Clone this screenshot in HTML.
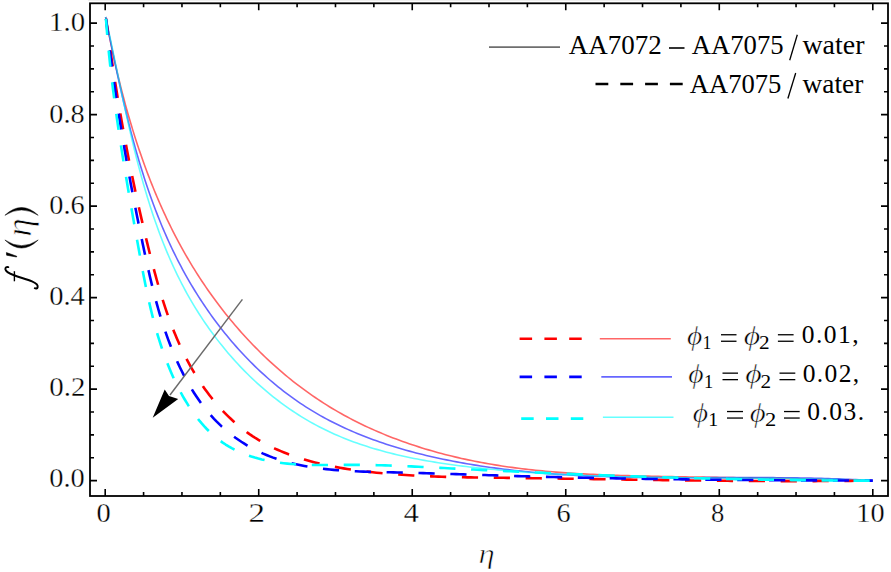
<!DOCTYPE html>
<html><head><meta charset="utf-8"><style>
html,body{margin:0;padding:0;background:#fff;}
body{width:891px;height:572px;overflow:hidden;}
svg{display:block;}
text{font-family:"Liberation Serif",serif;fill:#000;font-kerning:none;}
</style></head><body>
<svg width="891" height="572" viewBox="0 0 891 572">
<rect x="0" y="0" width="891" height="572" fill="#fff"/>
<rect x="88" y="0" width="801" height="0.8" fill="#ececec"/>
<g fill="none" stroke-linejoin="round">
<path d="M105.60,17.00 L106.22,20.31 L106.85,23.62 L107.50,26.94 L108.14,30.25 L108.80,33.57 L109.47,36.88 L110.15,40.20 L110.83,43.52 L111.53,46.83 L112.23,50.15 L112.95,53.47 L113.68,56.79 L114.41,60.10 L115.16,63.42 L115.92,66.74 L116.69,70.05 L117.47,73.37 L118.26,76.68 L119.06,79.99 L119.88,83.30 L120.70,86.61 L121.54,89.91 L122.39,93.22 L123.25,96.52 L124.13,99.82 L125.01,103.11 L125.91,106.41 L126.83,109.70 L127.75,112.99 L128.69,116.27 L129.65,119.55 L130.61,122.83 L131.59,126.10 L132.59,129.37 L133.59,132.63 L134.62,135.89 L135.65,139.15 L136.70,142.40 L137.77,145.65 L138.85,148.89 L139.95,152.12 L141.06,155.35 L142.18,158.58 L143.32,161.80 L144.48,165.01 L145.66,168.22 L146.85,171.42 L148.05,174.61 L149.27,177.80 L150.51,180.98 L151.77,184.15 L153.04,187.32 L154.33,190.48 L155.64,193.63 L156.96,196.77 L158.30,199.91 L159.66,203.03 L161.04,206.15 L162.44,209.27 L163.85,212.37 L165.28,215.46 L166.73,218.55 L168.20,221.62 L169.69,224.69 L171.20,227.75 L172.72,230.79 L174.27,233.83 L175.83,236.86 L177.42,239.88 L179.02,242.88 L180.65,245.88 L182.30,248.87 L183.96,251.84 L185.65,254.80 L187.35,257.76 L189.08,260.70 L190.83,263.63 L192.60,266.55 L194.39,269.45 L196.21,272.35 L198.04,275.23 L199.90,278.10 L201.77,280.96 L203.67,283.80 L205.59,286.63 L207.54,289.45 L209.50,292.25 L211.48,295.04 L213.49,297.81 L215.51,300.57 L217.56,303.31 L219.62,306.04 L221.71,308.76 L223.82,311.45 L225.94,314.13 L228.09,316.80 L230.26,319.45 L232.45,322.08 L234.65,324.69 L236.88,327.29 L239.13,329.86 L241.39,332.42 L243.68,334.97 L245.98,337.49 L248.31,339.99 L250.65,342.48 L253.01,344.94 L255.40,347.39 L257.80,349.81 L260.22,352.22 L262.65,354.60 L265.11,356.97 L267.59,359.31 L270.08,361.63 L272.59,363.93 L275.12,366.21 L277.67,368.46 L280.24,370.69 L282.82,372.90 L285.42,375.09 L288.04,377.25 L290.68,379.39 L293.34,381.51 L296.01,383.60 L298.70,385.66 L301.41,387.70 L304.13,389.72 L306.87,391.71 L309.63,393.68 L312.40,395.62 L315.20,397.53 L318.00,399.42 L320.83,401.28 L323.67,403.11 L326.53,404.92 L329.40,406.70 L332.29,408.45 L335.20,410.17 L338.12,411.87 L341.06,413.54 L344.01,415.18 L346.98,416.79 L349.96,418.38 L352.96,419.94 L355.97,421.47 L358.99,422.98 L362.03,424.47 L365.08,425.92 L368.14,427.35 L371.22,428.76 L374.31,430.14 L377.41,431.49 L380.52,432.82 L383.64,434.13 L386.78,435.41 L389.93,436.66 L393.09,437.89 L396.25,439.10 L399.43,440.28 L402.62,441.44 L405.82,442.57 L409.03,443.69 L412.25,444.77 L415.48,445.84 L418.71,446.88 L421.96,447.90 L425.21,448.90 L428.47,449.87 L431.74,450.82 L435.01,451.75 L438.30,452.66 L441.59,453.54 L444.88,454.41 L448.19,455.25 L451.50,456.07 L454.81,456.87 L458.13,457.65 L461.46,458.41 L464.79,459.14 L468.13,459.86 L471.47,460.55 L474.82,461.23 L478.17,461.89 L481.52,462.52 L484.88,463.14 L488.24,463.74 L491.60,464.31 L494.97,464.87 L498.34,465.41 L501.71,465.93 L505.08,466.44 L508.46,466.92 L511.84,467.39 L515.22,467.85 L518.61,468.28 L522.00,468.70 L525.39,469.10 L528.78,469.49 L532.17,469.87 L535.57,470.23 L538.96,470.57 L542.36,470.90 L545.76,471.22 L549.17,471.52 L552.57,471.81 L555.98,472.09 L559.38,472.35 L562.79,472.61 L566.20,472.85 L569.61,473.08 L573.03,473.30 L576.44,473.51 L579.85,473.71 L583.27,473.90 L586.69,474.09 L590.10,474.26 L593.52,474.42 L596.94,474.58 L600.36,474.73 L603.77,474.87 L607.19,475.00 L610.61,475.12 L614.03,475.24 L617.45,475.36 L620.87,475.47 L624.29,475.57 L627.71,475.67 L631.13,475.76 L634.55,475.85 L637.97,475.93 L641.38,476.01 L644.80,476.09 L648.22,476.17 L651.63,476.24 L655.05,476.31 L658.46,476.38 L661.88,476.44 L665.29,476.51 L668.70,476.57 L672.11,476.64 L675.52,476.70 L678.93,476.76 L682.34,476.82 L685.75,476.88 L689.15,476.94 L692.56,476.99 L695.96,477.05 L699.37,477.10 L702.77,477.16 L706.18,477.21 L709.58,477.27 L712.98,477.32 L716.38,477.37 L719.79,477.43 L723.19,477.48 L726.59,477.53 L729.99,477.58 L733.39,477.64 L736.79,477.69 L740.19,477.74 L743.59,477.79 L746.98,477.85 L750.38,477.90 L753.78,477.95 L757.18,478.01 L760.58,478.06 L763.97,478.12 L767.37,478.17 L770.77,478.23 L774.17,478.29 L777.56,478.35 L780.96,478.40 L784.36,478.46 L787.76,478.53 L791.15,478.59 L794.55,478.65 L797.95,478.72 L801.35,478.78 L804.75,478.85 L808.15,478.92 L811.54,478.99 L814.94,479.06 L818.34,479.14 L821.74,479.21 L825.14,479.29 L828.54,479.37 L831.94,479.45 L835.35,479.53 L838.75,479.62 L842.15,479.71 L845.55,479.80 L848.96,479.89 L852.36,479.98 L855.77,480.08 L859.17,480.18 L862.58,480.28 L865.98,480.38 L869.39,480.49 L872.80,480.60" stroke="#ff0000" stroke-width="1.60" stroke-opacity="0.60"/>
<path d="M105.60,17.00 L106.27,20.33 L106.94,23.67 L107.62,27.01 L108.29,30.36 L108.97,33.70 L109.64,37.05 L110.33,40.40 L111.01,43.76 L111.70,47.11 L112.38,50.47 L113.08,53.83 L113.78,57.20 L114.48,60.56 L115.18,63.92 L115.90,67.29 L116.61,70.66 L117.33,74.02 L118.06,77.39 L118.80,80.76 L119.54,84.13 L120.28,87.50 L121.04,90.86 L121.80,94.23 L122.57,97.60 L123.35,100.96 L124.13,104.32 L124.93,107.69 L125.73,111.05 L126.55,114.41 L127.37,117.77 L128.20,121.12 L129.05,124.47 L129.90,127.82 L130.76,131.17 L131.64,134.52 L132.53,137.86 L133.43,141.20 L134.34,144.53 L135.26,147.86 L136.20,151.19 L137.15,154.51 L138.11,157.83 L139.09,161.15 L140.08,164.46 L141.09,167.76 L142.11,171.06 L143.14,174.36 L144.20,177.65 L145.26,180.93 L146.34,184.21 L147.44,187.48 L148.56,190.74 L149.69,194.00 L150.84,197.26 L152.01,200.50 L153.19,203.74 L154.40,206.97 L155.62,210.19 L156.86,213.41 L158.12,216.62 L159.40,219.82 L160.69,223.01 L162.01,226.19 L163.35,229.37 L164.71,232.53 L166.09,235.69 L167.49,238.84 L168.92,241.98 L170.36,245.11 L171.83,248.23 L173.32,251.33 L174.84,254.43 L176.37,257.52 L177.93,260.60 L179.52,263.67 L181.13,266.72 L182.76,269.77 L184.42,272.80 L186.10,275.82 L187.81,278.83 L189.54,281.83 L191.29,284.81 L193.08,287.78 L194.88,290.74 L196.71,293.68 L198.57,296.61 L200.44,299.53 L202.35,302.43 L204.27,305.31 L206.22,308.17 L208.20,311.02 L210.19,313.86 L212.22,316.67 L214.26,319.47 L216.33,322.25 L218.42,325.01 L220.54,327.75 L222.68,330.47 L224.84,333.18 L227.02,335.86 L229.23,338.52 L231.46,341.16 L233.72,343.78 L235.99,346.38 L238.29,348.96 L240.61,351.51 L242.96,354.04 L245.32,356.55 L247.71,359.03 L250.13,361.49 L252.56,363.92 L255.01,366.33 L257.49,368.71 L259.99,371.07 L262.51,373.40 L265.06,375.71 L267.62,377.98 L270.21,380.23 L272.81,382.46 L275.44,384.65 L278.09,386.82 L280.77,388.95 L283.46,391.06 L286.17,393.14 L288.91,395.18 L291.66,397.20 L294.44,399.18 L297.24,401.14 L300.06,403.06 L302.90,404.95 L305.76,406.81 L308.64,408.63 L311.54,410.42 L314.46,412.17 L317.40,413.90 L320.35,415.59 L323.33,417.25 L326.33,418.87 L329.34,420.47 L332.37,422.03 L335.42,423.56 L338.49,425.07 L341.57,426.54 L344.67,427.98 L347.78,429.39 L350.91,430.78 L354.06,432.13 L357.22,433.46 L360.39,434.76 L363.57,436.03 L366.77,437.27 L369.98,438.49 L373.21,439.68 L376.45,440.84 L379.69,441.98 L382.95,443.09 L386.22,444.18 L389.50,445.24 L392.79,446.28 L396.09,447.29 L399.40,448.29 L402.72,449.25 L406.04,450.20 L409.38,451.12 L412.72,452.02 L416.06,452.90 L419.42,453.76 L422.78,454.59 L426.15,455.41 L429.52,456.20 L432.90,456.98 L436.28,457.73 L439.67,458.47 L443.06,459.19 L446.45,459.88 L449.85,460.56 L453.25,461.23 L456.65,461.87 L460.05,462.50 L463.46,463.11 L466.87,463.71 L470.27,464.29 L473.68,464.85 L477.09,465.40 L480.51,465.93 L483.92,466.44 L487.33,466.94 L490.75,467.43 L494.17,467.90 L497.59,468.36 L501.00,468.80 L504.43,469.23 L507.85,469.64 L511.27,470.04 L514.70,470.43 L518.12,470.81 L521.55,471.17 L524.97,471.52 L528.40,471.85 L531.83,472.18 L535.26,472.49 L538.70,472.79 L542.13,473.08 L545.56,473.36 L549.00,473.62 L552.43,473.88 L555.87,474.12 L559.30,474.36 L562.74,474.58 L566.18,474.80 L569.62,475.00 L573.06,475.20 L576.50,475.38 L579.94,475.56 L583.38,475.72 L586.83,475.88 L590.27,476.03 L593.71,476.17 L597.16,476.31 L600.61,476.43 L604.05,476.55 L607.50,476.66 L610.94,476.77 L614.39,476.86 L617.84,476.95 L621.29,477.04 L624.74,477.11 L628.19,477.18 L631.64,477.25 L635.09,477.31 L638.54,477.36 L641.99,477.41 L645.44,477.46 L648.89,477.50 L652.34,477.53 L655.79,477.56 L659.25,477.59 L662.70,477.61 L666.15,477.63 L669.60,477.65 L673.06,477.66 L676.51,477.67 L679.96,477.68 L683.41,477.68 L686.87,477.69 L690.32,477.69 L693.77,477.69 L697.23,477.68 L700.68,477.68 L704.13,477.67 L707.58,477.67 L711.04,477.66 L714.49,477.65 L717.94,477.64 L721.39,477.64 L724.85,477.63 L728.30,477.62 L731.75,477.61 L735.20,477.61 L738.65,477.60 L742.10,477.60 L745.55,477.60 L749.00,477.60 L752.45,477.60 L755.90,477.60 L759.35,477.61 L762.80,477.62 L766.25,477.63 L769.70,477.64 L773.14,477.66 L776.59,477.68 L780.04,477.71 L783.48,477.74 L786.93,477.77 L790.37,477.81 L793.82,477.85 L797.26,477.90 L800.70,477.95 L804.14,478.01 L807.58,478.07 L811.02,478.14 L814.46,478.21 L817.90,478.29 L821.34,478.38 L824.78,478.47 L828.21,478.57 L831.65,478.68 L835.08,478.80 L838.52,478.92 L841.95,479.05 L845.38,479.19 L848.81,479.33 L852.24,479.49 L855.67,479.65 L859.10,479.82 L862.53,480.00 L865.95,480.19 L869.38,480.39 L872.80,480.60" stroke="#0000ff" stroke-width="1.60" stroke-opacity="0.60"/>
<path d="M105.60,17.00 L106.33,20.30 L107.07,23.61 L107.79,26.92 L108.51,30.25 L109.23,33.58 L109.95,36.92 L110.66,40.26 L111.37,43.61 L112.07,46.97 L112.78,50.33 L113.48,53.70 L114.19,57.08 L114.89,60.46 L115.59,63.84 L116.29,67.23 L117.00,70.62 L117.70,74.02 L118.41,77.42 L119.12,80.83 L119.83,84.24 L120.54,87.65 L121.25,91.06 L121.97,94.48 L122.70,97.89 L123.43,101.31 L124.16,104.74 L124.90,108.16 L125.64,111.58 L126.39,115.01 L127.14,118.43 L127.91,121.86 L128.68,125.28 L129.45,128.71 L130.24,132.13 L131.03,135.55 L131.83,138.97 L132.65,142.39 L133.47,145.81 L134.30,149.23 L135.14,152.64 L135.99,156.05 L136.85,159.46 L137.73,162.87 L138.62,166.27 L139.52,169.67 L140.43,173.06 L141.35,176.45 L142.29,179.84 L143.25,183.22 L144.21,186.59 L145.20,189.96 L146.19,193.33 L147.21,196.69 L148.24,200.04 L149.28,203.38 L150.34,206.72 L151.42,210.05 L152.52,213.38 L153.64,216.70 L154.77,220.01 L155.92,223.31 L157.09,226.60 L158.29,229.88 L159.50,233.16 L160.73,236.42 L161.98,239.68 L163.26,242.92 L164.55,246.16 L165.87,249.39 L167.21,252.60 L168.58,255.81 L169.96,259.00 L171.37,262.18 L172.81,265.35 L174.27,268.51 L175.75,271.65 L177.26,274.78 L178.80,277.90 L180.36,281.01 L181.94,284.10 L183.56,287.18 L185.20,290.25 L186.87,293.30 L188.57,296.34 L190.30,299.36 L192.05,302.37 L193.83,305.36 L195.65,308.33 L197.49,311.29 L199.36,314.23 L201.26,317.16 L203.18,320.07 L205.14,322.95 L207.12,325.82 L209.13,328.68 L211.17,331.51 L213.23,334.32 L215.32,337.11 L217.44,339.88 L219.58,342.63 L221.76,345.36 L223.95,348.06 L226.18,350.74 L228.43,353.40 L230.70,356.04 L233.00,358.65 L235.33,361.23 L237.68,363.79 L240.06,366.33 L242.46,368.84 L244.89,371.32 L247.34,373.78 L249.81,376.21 L252.31,378.61 L254.84,380.98 L257.39,383.33 L259.96,385.64 L262.55,387.93 L265.17,390.19 L267.81,392.41 L270.48,394.61 L273.17,396.77 L275.88,398.90 L278.61,401.00 L281.36,403.07 L284.14,405.10 L286.94,407.10 L289.76,409.07 L292.60,411.00 L295.47,412.89 L298.35,414.75 L301.26,416.58 L304.19,418.37 L307.14,420.12 L310.11,421.83 L313.09,423.51 L316.10,425.15 L319.13,426.75 L322.18,428.31 L325.25,429.83 L328.34,431.31 L331.45,432.76 L334.57,434.17 L337.72,435.54 L340.88,436.88 L344.05,438.18 L347.25,439.45 L350.46,440.68 L353.68,441.88 L356.92,443.04 L360.18,444.18 L363.45,445.28 L366.74,446.35 L370.03,447.39 L373.34,448.40 L376.67,449.38 L380.00,450.34 L383.35,451.26 L386.71,452.16 L390.08,453.03 L393.46,453.87 L396.85,454.69 L400.25,455.48 L403.66,456.25 L407.08,456.99 L410.51,457.71 L413.94,458.41 L417.38,459.09 L420.83,459.74 L424.29,460.37 L427.75,460.99 L431.22,461.58 L434.69,462.15 L438.17,462.71 L441.65,463.24 L445.14,463.76 L448.63,464.27 L452.12,464.75 L455.62,465.22 L459.12,465.68 L462.62,466.12 L466.12,466.55 L469.63,466.96 L473.13,467.36 L476.64,467.75 L480.14,468.13 L483.64,468.49 L487.15,468.85 L490.65,469.20 L494.15,469.54 L497.64,469.86 L501.14,470.18 L504.63,470.49 L508.13,470.79 L511.62,471.09 L515.11,471.37 L518.59,471.65 L522.08,471.91 L525.57,472.17 L529.05,472.43 L532.53,472.67 L536.01,472.91 L539.49,473.13 L542.97,473.36 L546.45,473.57 L549.93,473.78 L553.40,473.98 L556.87,474.17 L560.35,474.35 L563.82,474.53 L567.29,474.71 L570.76,474.87 L574.23,475.03 L577.70,475.19 L581.16,475.34 L584.63,475.48 L588.09,475.62 L591.56,475.75 L595.02,475.87 L598.49,476.00 L601.95,476.11 L605.41,476.22 L608.87,476.33 L612.33,476.43 L615.79,476.53 L619.25,476.62 L622.71,476.71 L626.17,476.79 L629.63,476.87 L633.09,476.95 L636.55,477.02 L640.00,477.09 L643.46,477.15 L646.92,477.22 L650.37,477.27 L653.83,477.33 L657.29,477.38 L660.74,477.43 L664.20,477.48 L667.66,477.52 L671.11,477.57 L674.57,477.61 L678.03,477.64 L681.48,477.68 L684.94,477.71 L688.40,477.75 L691.85,477.78 L695.31,477.81 L698.77,477.84 L702.23,477.86 L705.69,477.89 L709.14,477.91 L712.60,477.94 L716.06,477.96 L719.52,477.99 L722.98,478.01 L726.45,478.03 L729.91,478.05 L733.37,478.08 L736.83,478.10 L740.30,478.12 L743.76,478.15 L747.23,478.17 L750.69,478.20 L754.16,478.22 L757.63,478.25 L761.10,478.28 L764.57,478.31 L768.04,478.34 L771.51,478.37 L774.99,478.40 L778.46,478.44 L781.94,478.48 L785.41,478.52 L788.89,478.56 L792.37,478.60 L795.85,478.65 L799.33,478.70 L802.81,478.75 L806.30,478.81 L809.78,478.87 L813.27,478.93 L816.76,479.00 L820.25,479.06 L823.74,479.14 L827.23,479.21 L830.73,479.29 L834.22,479.38 L837.72,479.46 L841.22,479.56 L844.72,479.65 L848.23,479.75 L851.73,479.86 L855.24,479.97 L858.75,480.09 L862.26,480.21 L865.77,480.33 L869.28,480.46 L872.80,480.60" stroke="#00ffff" stroke-width="1.60" stroke-opacity="0.60"/>
<path d="M105.80,16.50 L106.27,20.15 L106.75,23.79 L107.23,27.42 L107.72,31.05 L108.21,34.68 L108.71,38.29 L109.21,41.91 L109.71,45.52 L110.22,49.12 L110.74,52.72 L111.26,56.32 L111.78,59.91 L112.31,63.49 L112.85,67.07 L113.39,70.65 L113.94,74.23 L114.49,77.80 L115.05,81.36 L115.61,84.93 L116.18,88.49 L116.75,92.04 L117.33,95.60 L117.92,99.15 L118.51,102.69 L119.10,106.24 L119.70,109.78 L120.31,113.32 L120.93,116.86 L121.55,120.40 L122.17,123.93 L122.80,127.46 L123.44,130.99 L124.09,134.52 L124.74,138.05 L125.39,141.58 L126.06,145.10 L126.73,148.63 L127.40,152.15 L128.09,155.67 L128.78,159.20 L129.47,162.72 L130.17,166.24 L130.88,169.76 L131.60,173.28 L132.32,176.80 L133.05,180.33 L133.79,183.85 L134.53,187.37 L135.29,190.90 L136.04,194.42 L136.81,197.94 L137.58,201.47 L138.36,205.00 L139.15,208.53 L139.94,212.06 L140.75,215.59 L141.56,219.12 L142.37,222.66 L143.20,226.20 L144.03,229.74 L144.87,233.28 L145.72,236.82 L146.57,240.37 L147.44,243.92 L148.31,247.48 L149.19,251.03 L150.08,254.59 L150.98,258.15 L151.89,261.71 L152.81,265.27 L153.75,268.82 L154.70,272.38 L155.67,275.93 L156.65,279.48 L157.65,283.02 L158.67,286.56 L159.71,290.10 L160.77,293.62 L161.85,297.14 L162.95,300.65 L164.08,304.15 L165.23,307.64 L166.41,311.12 L167.61,314.59 L168.85,318.04 L170.11,321.48 L171.40,324.91 L172.72,328.32 L174.07,331.72 L175.46,335.10 L176.88,338.46 L178.34,341.80 L179.83,345.12 L181.36,348.43 L182.92,351.71 L184.53,354.97 L186.18,358.21 L187.86,361.43 L189.59,364.62 L191.37,367.79 L193.18,370.93 L195.04,374.05 L196.95,377.13 L198.90,380.19 L200.89,383.21 L202.93,386.20 L205.01,389.15 L207.13,392.06 L209.30,394.94 L211.51,397.78 L213.76,400.57 L216.06,403.32 L218.40,406.02 L220.79,408.68 L223.22,411.29 L225.69,413.85 L228.21,416.36 L230.77,418.81 L233.37,421.21 L236.02,423.55 L238.71,425.84 L241.45,428.06 L244.23,430.22 L247.05,432.32 L249.92,434.36 L252.83,436.33 L255.78,438.23 L258.78,440.06 L261.81,441.83 L264.89,443.54 L268.00,445.19 L271.15,446.77 L274.34,448.30 L277.56,449.76 L280.81,451.17 L284.10,452.53 L287.41,453.83 L290.76,455.08 L294.13,456.27 L297.53,457.42 L300.96,458.52 L304.41,459.57 L307.88,460.57 L311.37,461.53 L314.88,462.45 L318.42,463.32 L321.97,464.16 L325.53,464.95 L329.11,465.71 L332.71,466.42 L336.31,467.11 L339.93,467.76 L343.56,468.37 L347.20,468.96 L350.84,469.51 L354.49,470.04 L358.14,470.54 L361.80,471.01 L365.46,471.46 L369.12,471.88 L372.78,472.29 L376.44,472.67 L380.10,473.03 L383.75,473.37 L387.40,473.70 L391.05,474.00 L394.70,474.29 L398.34,474.56 L401.98,474.82 L405.62,475.06 L409.26,475.28 L412.90,475.49 L416.53,475.69 L420.17,475.87 L423.80,476.05 L427.43,476.20 L431.06,476.35 L434.69,476.49 L438.31,476.61 L441.94,476.73 L445.56,476.84 L449.18,476.94 L452.81,477.03 L456.43,477.11 L460.05,477.19 L463.67,477.26 L467.28,477.33 L470.90,477.39 L474.52,477.45 L478.14,477.50 L481.75,477.55 L485.37,477.60 L488.99,477.65 L492.60,477.69 L496.22,477.73 L499.83,477.78 L503.45,477.82 L507.06,477.87 L510.68,477.91 L514.30,477.96 L517.91,478.01 L521.53,478.06 L525.14,478.11 L528.76,478.16 L532.38,478.21 L535.99,478.26 L539.61,478.31 L543.23,478.36 L546.84,478.41 L550.46,478.46 L554.08,478.52 L557.69,478.57 L561.31,478.62 L564.93,478.68 L568.55,478.73 L572.16,478.78 L575.78,478.84 L579.40,478.89 L583.02,478.95 L586.63,479.00 L590.25,479.06 L593.87,479.11 L597.49,479.17 L601.11,479.22 L604.72,479.28 L608.34,479.33 L611.96,479.38 L615.58,479.44 L619.20,479.49 L622.82,479.54 L626.44,479.60 L630.06,479.65 L633.67,479.70 L637.29,479.75 L640.91,479.81 L644.53,479.86 L648.15,479.91 L651.77,479.96 L655.39,480.01 L659.01,480.06 L662.63,480.10 L666.25,480.15 L669.87,480.20 L673.49,480.24 L677.11,480.29 L680.73,480.33 L684.35,480.38 L687.97,480.42 L691.59,480.46 L695.22,480.50 L698.84,480.54 L702.46,480.58 L706.08,480.62 L709.70,480.65 L713.32,480.69 L716.94,480.72 L720.57,480.75 L724.19,480.79 L727.81,480.82 L731.43,480.85 L735.05,480.87 L738.68,480.90 L742.30,480.92 L745.92,480.95 L749.54,480.97 L753.17,480.99 L756.79,481.01 L760.41,481.03 L764.04,481.04 L767.66,481.06 L771.28,481.07 L774.91,481.08 L778.53,481.09 L782.16,481.10 L785.78,481.10 L789.40,481.11 L793.03,481.11 L796.65,481.11 L800.28,481.11 L803.90,481.10 L807.53,481.09 L811.15,481.09 L814.78,481.08 L818.40,481.06 L822.03,481.05 L825.65,481.03 L829.28,481.01 L832.91,480.99 L836.53,480.97 L840.16,480.94 L843.78,480.91 L847.41,480.88 L851.04,480.85 L854.66,480.82 L858.29,480.78 L861.92,480.74 L865.55,480.69 L869.17,480.65 L872.80,480.60" stroke="#ff0000" stroke-width="2.60" stroke-dasharray="16.20 15.68" stroke-dashoffset="-2.30"/>
<path d="M105.80,16.50 L106.20,20.19 L106.61,23.87 L107.03,27.55 L107.45,31.23 L107.88,34.90 L108.32,38.56 L108.76,42.22 L109.21,45.88 L109.66,49.53 L110.12,53.17 L110.59,56.81 L111.06,60.45 L111.53,64.09 L112.02,67.72 L112.51,71.34 L113.00,74.97 L113.51,78.59 L114.01,82.20 L114.53,85.82 L115.05,89.43 L115.57,93.04 L116.10,96.64 L116.64,100.24 L117.18,103.84 L117.73,107.44 L118.29,111.04 L118.85,114.63 L119.41,118.22 L119.98,121.81 L120.56,125.40 L121.15,128.98 L121.73,132.57 L122.33,136.15 L122.93,139.73 L123.53,143.31 L124.15,146.89 L124.76,150.47 L125.39,154.05 L126.01,157.63 L126.65,161.21 L127.29,164.78 L127.93,168.36 L128.58,171.94 L129.24,175.52 L129.90,179.09 L130.56,182.67 L131.24,186.25 L131.91,189.83 L132.59,193.41 L133.28,196.99 L133.98,200.57 L134.67,204.15 L135.38,207.74 L136.09,211.32 L136.80,214.91 L137.52,218.50 L138.24,222.09 L138.97,225.68 L139.71,229.28 L140.45,232.87 L141.19,236.47 L141.94,240.07 L142.70,243.68 L143.46,247.29 L144.23,250.90 L145.00,254.51 L145.78,258.12 L146.57,261.73 L147.37,265.35 L148.17,268.96 L149.00,272.57 L149.83,276.18 L150.68,279.79 L151.54,283.39 L152.42,286.99 L153.32,290.59 L154.24,294.18 L155.18,297.76 L156.14,301.34 L157.12,304.91 L158.12,308.48 L159.15,312.03 L160.20,315.58 L161.28,319.11 L162.39,322.64 L163.53,326.15 L164.70,329.65 L165.90,333.14 L167.13,336.62 L168.40,340.08 L169.70,343.53 L171.03,346.96 L172.41,350.38 L173.82,353.78 L175.27,357.17 L176.76,360.53 L178.29,363.88 L179.86,367.21 L181.48,370.52 L183.15,373.81 L184.85,377.07 L186.61,380.31 L188.41,383.52 L190.26,386.70 L192.16,389.84 L194.11,392.95 L196.11,396.01 L198.16,399.04 L200.26,402.02 L202.41,404.95 L204.62,407.84 L206.89,410.67 L209.20,413.44 L211.58,416.16 L214.01,418.82 L216.49,421.41 L219.04,423.94 L221.64,426.41 L224.30,428.80 L227.01,431.13 L229.77,433.40 L232.59,435.59 L235.45,437.72 L238.36,439.77 L241.32,441.76 L244.32,443.67 L247.37,445.52 L250.45,447.29 L253.58,448.99 L256.75,450.61 L259.95,452.17 L263.19,453.65 L266.47,455.05 L269.78,456.38 L273.12,457.64 L276.49,458.82 L279.88,459.94 L283.31,460.98 L286.77,461.97 L290.25,462.89 L293.75,463.75 L297.28,464.55 L300.83,465.29 L304.41,465.99 L308.00,466.63 L311.61,467.22 L315.24,467.76 L318.89,468.26 L322.55,468.72 L326.23,469.14 L329.91,469.52 L333.62,469.86 L337.33,470.18 L341.05,470.46 L344.78,470.71 L348.52,470.93 L352.26,471.13 L356.01,471.31 L359.76,471.47 L363.52,471.61 L367.28,471.74 L371.03,471.85 L374.79,471.95 L378.55,472.05 L382.30,472.14 L386.05,472.22 L389.79,472.30 L393.52,472.38 L397.25,472.47 L400.97,472.56 L404.69,472.65 L408.39,472.74 L412.09,472.84 L415.79,472.94 L419.47,473.04 L423.16,473.14 L426.83,473.24 L430.50,473.35 L434.17,473.46 L437.83,473.57 L441.48,473.68 L445.14,473.79 L448.79,473.90 L452.43,474.02 L456.07,474.13 L459.71,474.25 L463.35,474.36 L466.98,474.48 L470.61,474.59 L474.24,474.71 L477.87,474.83 L481.49,474.94 L485.12,475.06 L488.74,475.18 L492.36,475.29 L495.99,475.41 L499.61,475.52 L503.23,475.63 L506.86,475.75 L510.48,475.86 L514.11,475.97 L517.73,476.08 L521.36,476.18 L524.99,476.29 L528.63,476.39 L532.26,476.49 L535.90,476.59 L539.54,476.69 L543.18,476.79 L546.82,476.88 L550.46,476.97 L554.11,477.06 L557.75,477.15 L561.40,477.24 L565.05,477.33 L568.70,477.41 L572.35,477.50 L576.01,477.58 L579.66,477.66 L583.32,477.74 L586.98,477.82 L590.64,477.89 L594.30,477.97 L597.96,478.04 L601.62,478.11 L605.28,478.18 L608.95,478.25 L612.61,478.32 L616.28,478.39 L619.95,478.45 L623.62,478.52 L627.28,478.58 L630.95,478.64 L634.62,478.70 L638.30,478.76 L641.97,478.81 L645.64,478.87 L649.31,478.93 L652.99,478.98 L656.66,479.03 L660.33,479.08 L664.01,479.13 L667.68,479.18 L671.36,479.23 L675.04,479.28 L678.71,479.32 L682.39,479.37 L686.06,479.41 L689.74,479.45 L693.42,479.50 L697.09,479.54 L700.77,479.58 L704.45,479.61 L708.12,479.65 L711.80,479.69 L715.48,479.72 L719.15,479.76 L722.83,479.79 L726.50,479.83 L730.18,479.86 L733.85,479.89 L737.53,479.92 L741.20,479.95 L744.87,479.98 L748.55,480.01 L752.22,480.03 L755.89,480.06 L759.56,480.09 L763.23,480.11 L766.90,480.14 L770.57,480.16 L774.24,480.18 L777.90,480.20 L781.57,480.23 L785.23,480.25 L788.90,480.27 L792.56,480.29 L796.22,480.31 L799.88,480.32 L803.54,480.34 L807.20,480.36 L810.86,480.38 L814.51,480.39 L818.17,480.41 L821.82,480.43 L825.47,480.44 L829.12,480.45 L832.77,480.47 L836.42,480.48 L840.07,480.50 L843.71,480.51 L847.35,480.52 L850.99,480.53 L854.63,480.55 L858.27,480.56 L861.90,480.57 L865.54,480.58 L869.17,480.59 L872.80,480.60" stroke="#0000ff" stroke-width="2.60" stroke-dasharray="16.20 15.68" stroke-dashoffset="-2.30"/>
<path d="M105.80,16.50 L106.07,20.22 L106.35,23.94 L106.64,27.65 L106.94,31.36 L107.25,35.07 L107.57,38.77 L107.90,42.47 L108.25,46.17 L108.60,49.86 L108.97,53.55 L109.34,57.24 L109.73,60.92 L110.12,64.60 L110.52,68.28 L110.94,71.95 L111.36,75.63 L111.79,79.30 L112.23,82.96 L112.68,86.63 L113.13,90.29 L113.60,93.95 L114.07,97.61 L114.55,101.27 L115.04,104.92 L115.54,108.57 L116.04,112.22 L116.55,115.87 L117.07,119.52 L117.60,123.17 L118.13,126.81 L118.67,130.45 L119.21,134.10 L119.76,137.74 L120.32,141.38 L120.88,145.02 L121.45,148.65 L122.02,152.29 L122.60,155.93 L123.19,159.57 L123.78,163.20 L124.37,166.84 L124.97,170.47 L125.58,174.11 L126.18,177.74 L126.80,181.38 L127.41,185.01 L128.03,188.65 L128.66,192.28 L129.28,195.92 L129.91,199.56 L130.55,203.19 L131.18,206.83 L131.82,210.47 L132.46,214.11 L133.11,217.75 L133.75,221.39 L134.40,225.03 L135.05,228.67 L135.71,232.32 L136.36,235.97 L137.01,239.61 L137.67,243.26 L138.33,246.91 L138.99,250.57 L139.65,254.22 L140.31,257.87 L140.98,261.53 L141.66,265.18 L142.34,268.84 L143.03,272.49 L143.74,276.15 L144.45,279.80 L145.17,283.44 L145.91,287.09 L146.67,290.73 L147.44,294.37 L148.23,298.01 L149.04,301.64 L149.87,305.27 L150.72,308.89 L151.60,312.51 L152.49,316.12 L153.42,319.72 L154.37,323.32 L155.35,326.91 L156.36,330.49 L157.40,334.06 L158.47,337.63 L159.58,341.19 L160.72,344.73 L161.90,348.27 L163.11,351.80 L164.36,355.31 L165.66,358.82 L166.99,362.31 L168.37,365.79 L169.79,369.26 L171.26,372.72 L172.77,376.16 L174.33,379.58 L175.94,382.98 L177.60,386.36 L179.31,389.70 L181.07,393.01 L182.88,396.28 L184.74,399.52 L186.66,402.70 L188.64,405.84 L190.67,408.93 L192.76,411.96 L194.91,414.93 L197.12,417.84 L199.39,420.68 L201.72,423.44 L204.11,426.14 L206.56,428.75 L209.08,431.28 L211.67,433.73 L214.32,436.09 L217.04,438.35 L219.83,440.52 L222.69,442.58 L225.62,444.54 L228.62,446.39 L231.68,448.14 L234.82,449.78 L238.02,451.31 L241.27,452.75 L244.59,454.09 L247.95,455.34 L251.37,456.49 L254.83,457.56 L258.33,458.54 L261.87,459.44 L265.45,460.25 L269.06,460.99 L272.69,461.66 L276.36,462.25 L280.04,462.77 L283.74,463.22 L287.46,463.61 L291.19,463.94 L294.94,464.22 L298.69,464.45 L302.46,464.63 L306.24,464.76 L310.02,464.87 L313.80,464.94 L317.60,464.98 L321.39,465.00 L325.19,465.00 L328.99,464.98 L332.78,464.95 L336.57,464.92 L340.36,464.89 L344.15,464.87 L347.93,464.85 L351.70,464.84 L355.46,464.85 L359.21,464.87 L362.95,464.91 L366.69,464.96 L370.42,465.02 L374.14,465.10 L377.86,465.19 L381.57,465.29 L385.27,465.40 L388.97,465.52 L392.67,465.65 L396.35,465.78 L400.04,465.93 L403.72,466.08 L407.40,466.24 L411.07,466.41 L414.75,466.58 L418.42,466.75 L422.09,466.93 L425.75,467.11 L429.42,467.30 L433.08,467.49 L436.75,467.68 L440.42,467.86 L444.08,468.05 L447.75,468.24 L451.42,468.43 L455.09,468.62 L458.76,468.80 L462.43,468.99 L466.10,469.17 L469.78,469.36 L473.45,469.54 L477.13,469.72 L480.81,469.90 L484.48,470.08 L488.16,470.26 L491.84,470.44 L495.53,470.61 L499.21,470.79 L502.89,470.96 L506.58,471.13 L510.26,471.30 L513.95,471.48 L517.63,471.64 L521.32,471.81 L525.01,471.98 L528.70,472.15 L532.39,472.31 L536.08,472.47 L539.77,472.64 L543.47,472.80 L547.16,472.96 L550.85,473.12 L554.55,473.27 L558.24,473.43 L561.94,473.58 L565.64,473.74 L569.33,473.89 L573.03,474.04 L576.73,474.19 L580.43,474.34 L584.13,474.48 L587.83,474.63 L591.53,474.77 L595.23,474.91 L598.93,475.05 L602.63,475.19 L606.34,475.33 L610.04,475.47 L613.74,475.60 L617.44,475.74 L621.15,475.87 L624.85,476.00 L628.56,476.13 L632.26,476.26 L635.97,476.38 L639.67,476.51 L643.38,476.63 L647.08,476.75 L650.79,476.87 L654.50,476.99 L658.20,477.10 L661.91,477.22 L665.61,477.33 L669.32,477.44 L673.03,477.55 L676.73,477.66 L680.44,477.77 L684.15,477.87 L687.86,477.97 L691.56,478.07 L695.27,478.17 L698.98,478.27 L702.68,478.37 L706.39,478.46 L710.10,478.55 L713.80,478.64 L717.51,478.73 L721.21,478.82 L724.92,478.90 L728.63,478.98 L732.33,479.06 L736.04,479.14 L739.74,479.22 L743.45,479.29 L747.15,479.37 L750.86,479.44 L754.56,479.51 L758.26,479.57 L761.97,479.64 L765.67,479.70 L769.37,479.76 L773.07,479.82 L776.78,479.88 L780.48,479.93 L784.18,479.99 L787.88,480.04 L791.58,480.09 L795.28,480.13 L798.97,480.18 L802.67,480.22 L806.37,480.26 L810.07,480.30 L813.76,480.33 L817.46,480.37 L821.15,480.40 L824.85,480.43 L828.54,480.46 L832.23,480.48 L835.92,480.50 L839.62,480.52 L843.31,480.54 L847.00,480.56 L850.69,480.57 L854.37,480.58 L858.06,480.59 L861.75,480.59 L865.43,480.60 L869.12,480.60 L872.80,480.60" stroke="#00ffff" stroke-width="2.60" stroke-dasharray="16.20 15.68" stroke-dashoffset="-2.30"/>
</g>
<rect x="90" y="3.3" width="798" height="492.7" fill="none" stroke="#000" stroke-width="1.8"/>
<path d="M105.20,496V489.00 M105.20,3.3V10.30 M143.58,496V492.00 M143.58,3.3V7.30 M181.96,496V492.00 M181.96,3.3V7.30 M220.34,496V492.00 M220.34,3.3V7.30 M258.72,496V489.00 M258.72,3.3V10.30 M297.10,496V492.00 M297.10,3.3V7.30 M335.48,496V492.00 M335.48,3.3V7.30 M373.86,496V492.00 M373.86,3.3V7.30 M412.24,496V489.00 M412.24,3.3V10.30 M450.62,496V492.00 M450.62,3.3V7.30 M489.00,496V492.00 M489.00,3.3V7.30 M527.38,496V492.00 M527.38,3.3V7.30 M565.76,496V489.00 M565.76,3.3V10.30 M604.14,496V492.00 M604.14,3.3V7.30 M642.52,496V492.00 M642.52,3.3V7.30 M680.90,496V492.00 M680.90,3.3V7.30 M719.28,496V489.00 M719.28,3.3V10.30 M757.66,496V492.00 M757.66,3.3V7.30 M796.04,496V492.00 M796.04,3.3V7.30 M834.42,496V492.00 M834.42,3.3V7.30 M872.80,496V489.00 M872.80,3.3V10.30 M90,480.60H97.00 M888,480.60H881.00 M90,457.73H94.00 M888,457.73H884.00 M90,434.85H94.00 M888,434.85H884.00 M90,411.98H94.00 M888,411.98H884.00 M90,389.10H97.00 M888,389.10H881.00 M90,366.23H94.00 M888,366.23H884.00 M90,343.35H94.00 M888,343.35H884.00 M90,320.48H94.00 M888,320.48H884.00 M90,297.60H97.00 M888,297.60H881.00 M90,274.73H94.00 M888,274.73H884.00 M90,251.85H94.00 M888,251.85H884.00 M90,228.97H94.00 M888,228.97H884.00 M90,206.10H97.00 M888,206.10H881.00 M90,183.23H94.00 M888,183.23H884.00 M90,160.35H94.00 M888,160.35H884.00 M90,137.48H94.00 M888,137.48H884.00 M90,114.60H97.00 M888,114.60H881.00 M90,91.72H94.00 M888,91.72H884.00 M90,68.85H94.00 M888,68.85H884.00 M90,45.97H94.00 M888,45.97H884.00 M90,23.10H97.00 M888,23.10H881.00" stroke="#000" stroke-width="1.6" fill="none"/>
<path d="M242.4,299.4 L170,395" stroke="#6a6a6a" stroke-width="1.45" fill="none"/>
<path d="M152.7,417.8 L164.7,389.4 L169,396 L178.2,399 Z" fill="#000"/>
<text x="49.12" y="31.35" font-size="27.30" textLength="35.92" lengthAdjust="spacingAndGlyphs" stroke="#fff" stroke-width="0.3">1.0</text>
<text x="49.27" y="122.57" font-size="27.30" textLength="35.35" lengthAdjust="spacingAndGlyphs" stroke="#fff" stroke-width="0.3">0.8</text>
<text x="49.27" y="213.79" font-size="27.30" textLength="35.32" lengthAdjust="spacingAndGlyphs" stroke="#fff" stroke-width="0.3">0.6</text>
<text x="49.27" y="305.01" font-size="27.30" textLength="35.53" lengthAdjust="spacingAndGlyphs" stroke="#fff" stroke-width="0.3">0.4</text>
<text x="49.25" y="396.23" font-size="27.30" textLength="36.09" lengthAdjust="spacingAndGlyphs" stroke="#fff" stroke-width="0.3">0.2</text>
<text x="49.27" y="487.45" font-size="27.30" textLength="35.46" lengthAdjust="spacingAndGlyphs" stroke="#fff" stroke-width="0.3">0.0</text>
<text x="96.62" y="522.30" font-size="27.10" textLength="14.22" lengthAdjust="spacingAndGlyphs" stroke="#fff" stroke-width="0.3">0</text>
<text x="248.60" y="522.30" font-size="27.10" textLength="16.46" lengthAdjust="spacingAndGlyphs" stroke="#fff" stroke-width="0.3">2</text>
<text x="403.66" y="522.30" font-size="27.10" textLength="15.06" lengthAdjust="spacingAndGlyphs" stroke="#fff" stroke-width="0.3">4</text>
<text x="556.43" y="522.30" font-size="27.10" textLength="14.16" lengthAdjust="spacingAndGlyphs" stroke="#fff" stroke-width="0.3">6</text>
<text x="710.93" y="522.30" font-size="27.10" textLength="13.33" lengthAdjust="spacingAndGlyphs" stroke="#fff" stroke-width="0.3">8</text>
<text x="856.37" y="522.30" font-size="27.10" textLength="28.26" lengthAdjust="spacingAndGlyphs" stroke="#fff" stroke-width="0.3">10</text>
<text x="478.63" y="562.60" font-size="27.00" font-style="italic" textLength="16.22" lengthAdjust="spacingAndGlyphs" stroke="#fff" stroke-width="0.6">η</text>
<path d="M8.3,267.1 C6.6,266.6 5.2,267.4 5.4,269.2 C5.8,271.2 9,273.3 13.5,275 C20,277.5 27,279.3 32,281.4 C36.5,283.3 38.2,285.5 37.6,287.4 C37.2,288.6 35.8,288.8 34.8,288.2" fill="none" stroke="#000" stroke-width="1.95" stroke-linecap="round"/>
<path d="M14.4,271.2 V281.3" stroke="#000" stroke-width="1.4"/>
<path d="M6.4,252.6 L6.6,255.2 L16.6,257 L16.7,256.2 Z" fill="#000" stroke="#000" stroke-width="0.6"/>
<path d="M4.9,240 Q21.55,256.1 38.2,240 Q21.55,251.3 4.9,240 Z" fill="#000" stroke="#000" stroke-width="0.5"/>
<path d="M4.9,215.3 Q21.55,199.7 38.2,215.3 Q21.55,204.6 4.9,215.3 Z" fill="#000" stroke="#000" stroke-width="0.5"/>
<text stroke="#fff" stroke-width="0.8" transform="translate(31.20,236.73) rotate(-90)" font-size="36.00" font-style="italic" textLength="18.47" lengthAdjust="spacingAndGlyphs">η</text>
<path d="M489,47.1H560" stroke="#6e6e6e" stroke-width="1.9"/>
<path d="M595.5,84H683" stroke="#000" stroke-width="2.6" stroke-dasharray="12.8 12"/>
<text x="568.84" y="54.20" font-size="27.00" textLength="93.05" lengthAdjust="spacingAndGlyphs">AA7072</text>
<rect x="669" y="47.2" width="15.5" height="1.6" fill="#000"/>
<text x="691.74" y="54.20" font-size="27.00" textLength="91.80" lengthAdjust="spacingAndGlyphs">AA7075</text>
<path d="M789.7,60.3 L797.3,34.7" stroke="#000" stroke-width="1.3"/>
<text x="802.47" y="54.20" font-size="27.00" textLength="61.97" lengthAdjust="spacingAndGlyphs">water</text>
<text x="689.74" y="92.80" font-size="27.00" textLength="91.70" lengthAdjust="spacingAndGlyphs">AA7075</text>
<path d="M787.9,98.5 L795.7,73" stroke="#000" stroke-width="1.3"/>
<text x="802.57" y="92.80" font-size="27.00" textLength="60.77" lengthAdjust="spacingAndGlyphs">water</text>
<path d="M519.6,338.7H583.1" stroke="#ff0000" stroke-width="2.6" stroke-dasharray="12.5 12.3"/>
<path d="M599.8,338.7H670.8" stroke="#ff0000" stroke-width="1.60" stroke-opacity="0.60"/>
<text x="687.02" y="344.70" font-size="26.50" font-style="italic" textLength="15.27" lengthAdjust="spacingAndGlyphs" stroke="#fff" stroke-width="0.5">ϕ</text>
<text x="702.70" y="349.20" font-size="18.50" textLength="8.52" lengthAdjust="spacingAndGlyphs">1</text>
<text x="743.77" y="344.70" font-size="26.50" font-style="italic" textLength="16.48" lengthAdjust="spacingAndGlyphs" stroke="#fff" stroke-width="0.5">ϕ</text>
<text x="759.07" y="349.20" font-size="18.50" textLength="10.60" lengthAdjust="spacingAndGlyphs">2</text>
<rect x="721.0" y="334.1" width="15.5" height="1.3" fill="#000"/>
<rect x="721.0" y="340.6" width="15.5" height="1.3" fill="#000"/>
<rect x="777.9" y="334.1" width="15.7" height="1.3" fill="#000"/>
<rect x="777.9" y="340.6" width="15.7" height="1.3" fill="#000"/>
<text x="801.63" y="343.20" font-size="25.50" textLength="56.98" lengthAdjust="spacing">0.01,</text>
<path d="M519.6,376.9H583.1" stroke="#0000ff" stroke-width="2.6" stroke-dasharray="12.5 12.3"/>
<path d="M601.3,376.9H672.0" stroke="#0000ff" stroke-width="1.60" stroke-opacity="0.60"/>
<text x="688.32" y="383.10" font-size="26.50" font-style="italic" textLength="15.38" lengthAdjust="spacingAndGlyphs" stroke="#fff" stroke-width="0.5">ϕ</text>
<text x="703.88" y="387.60" font-size="18.50" textLength="9.23" lengthAdjust="spacingAndGlyphs">1</text>
<text x="745.27" y="383.10" font-size="26.50" font-style="italic" textLength="16.48" lengthAdjust="spacingAndGlyphs" stroke="#fff" stroke-width="0.5">ϕ</text>
<text x="760.57" y="387.60" font-size="18.50" textLength="10.60" lengthAdjust="spacingAndGlyphs">2</text>
<rect x="722.5" y="372.5" width="15.5" height="1.3" fill="#000"/>
<rect x="722.5" y="379.0" width="15.5" height="1.3" fill="#000"/>
<rect x="779.5" y="372.5" width="15.8" height="1.3" fill="#000"/>
<rect x="779.5" y="379.0" width="15.8" height="1.3" fill="#000"/>
<text x="802.73" y="381.60" font-size="25.50" textLength="56.38" lengthAdjust="spacing">0.02,</text>
<path d="M521.2,418.6H584.7" stroke="#00ffff" stroke-width="2.6" stroke-dasharray="12.5 12.3"/>
<path d="M602.9,417.2H673.5" stroke="#00ffff" stroke-width="1.60" stroke-opacity="0.60"/>
<text x="692.82" y="421.50" font-size="26.50" font-style="italic" textLength="15.38" lengthAdjust="spacingAndGlyphs" stroke="#fff" stroke-width="0.5">ϕ</text>
<text x="708.25" y="426.00" font-size="18.50" textLength="9.94" lengthAdjust="spacingAndGlyphs">1</text>
<text x="749.79" y="421.50" font-size="26.50" font-style="italic" textLength="15.93" lengthAdjust="spacingAndGlyphs" stroke="#fff" stroke-width="0.5">ϕ</text>
<text x="765.01" y="426.00" font-size="18.50" textLength="11.23" lengthAdjust="spacingAndGlyphs">2</text>
<rect x="727.0" y="410.9" width="16.0" height="1.3" fill="#000"/>
<rect x="727.0" y="417.4" width="16.0" height="1.3" fill="#000"/>
<rect x="784.0" y="410.9" width="15.7" height="1.3" fill="#000"/>
<rect x="784.0" y="417.4" width="15.7" height="1.3" fill="#000"/>
<text x="807.13" y="420.00" font-size="25.50" textLength="57.05" lengthAdjust="spacing">0.03.</text>
</svg></body></html>
